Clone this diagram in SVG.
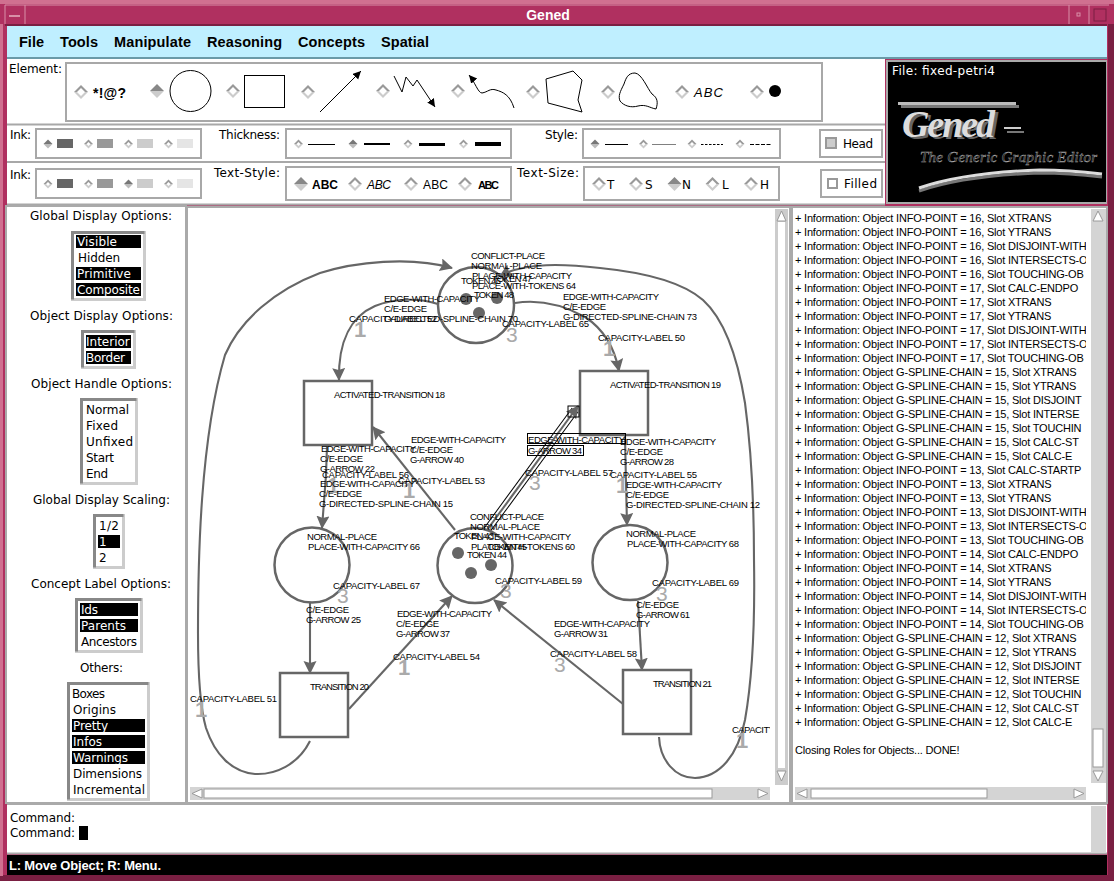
<svg xmlns="http://www.w3.org/2000/svg" xmlns:xlink="http://www.w3.org/1999/xlink" width="1114" height="881" viewBox="0 0 1114 881">
<style>
text{font-family:"DejaVu Sans",sans-serif;fill:#000}
.ui{font-size:12px}
.inv{font-size:12px;fill:#fff}
.menu{font-family:"Liberation Sans",sans-serif;font-size:14.5px;font-weight:bold}
.log{font-family:"Liberation Sans",sans-serif;font-size:11px;letter-spacing:-.2px}
.l{font-family:"Liberation Sans",sans-serif;font-size:9.5px}
.b3{font-family:"Liberation Sans",sans-serif;font-size:21px;fill:#aaa}
.b1{font-family:"Liberation Sans",sans-serif;font-size:22px;font-weight:bold;fill:#aaa}
.node{fill:#fff;fill-opacity:0;stroke:#666;stroke-width:2.5}
.tok{fill:#666}
.edge{fill:none;stroke:#666;stroke-width:2.1;marker-end:url(#ah)}
.panel{fill:#fff;stroke:#a8a8a8;stroke-width:2}
.br{fill:#fff;stroke:#ccc;stroke-width:3}
.tl{fill:none;stroke:#888;stroke-width:3}
.sel{fill:#000}
.sb{fill:#d4d4d4}
.th{fill:#fff;stroke:#999;stroke-width:1}
.icon{fill:none;stroke:#000;stroke-width:1}
</style>
<defs>
<marker id="ah" markerUnits="userSpaceOnUse" markerWidth="16" markerHeight="16" refX="12" refY="6.5" orient="auto"><path d="M0 0L13 6.5L0 13L2 6.5Z" fill="#666"/></marker>
<marker id="ai" markerUnits="userSpaceOnUse" markerWidth="10" markerHeight="10" refX="8" refY="4" orient="auto"><path d="M0 0L8 4L0 8Z" fill="#000"/></marker>
<g id="d"><polygon points="-7,0 0,-7 7,0" fill="#999"/><polygon points="-7,0 0,7 7,0" fill="#ccc"/><polygon points="-4,0 0,-4 4,0 0,4" fill="#fff"/></g>
<g id="dOn"><polygon points="-7,0 0,-7 7,0" fill="#888"/><polygon points="-7,0 0,7 7,0" fill="#ccc"/></g>
<g id="s"><polygon points="-4.5,0 0,-4.5 4.5,0" fill="#999"/><polygon points="-4.5,0 0,4.5 4.5,0" fill="#ccc"/><polygon points="-2,0 0,-2 2,0 0,2" fill="#fff"/></g>
<g id="sOn"><polygon points="-4.5,0 0,-4.5 4.5,0" fill="#777"/><polygon points="-4.5,0 0,4.5 4.5,0" fill="#bbb"/></g>
<clipPath id="logClip"><rect x="793" y="209" width="293" height="576"/></clipPath>
<clipPath id="paneClip"><rect x="189" y="209" width="581" height="576"/></clipPath>
<clipPath id="intClip"><rect x="86" y="334" width="45" height="30"/></clipPath>
</defs>

<g id="window-frame">
<rect width="1114" height="881" fill="#b03060"/>
<rect x="0" y="0" width="1114" height="4" fill="#d07090"/>
<rect x="0" y="875" width="1114" height="6" fill="#7a1f42"/>
<rect x="1108" y="24" width="6" height="852" fill="#7a1f42"/>
<rect x="0" y="24" width="3" height="852" fill="#d07090"/>
<rect x="5" y="24" width="1102" height="2" fill="#7a1f42"/>
<path d="M5 5H1109M5 5V24M25 5V24M1069 5V24M1089 5V24" fill="none" stroke="#d890a8" stroke-width="1"/>
<rect x="9" y="15" width="11" height="2" fill="#d890a8"/>
<rect x="1077" y="13" width="3" height="3" fill="none" stroke="#d890a8"/>
<rect x="1094" y="9" width="12" height="12" fill="none" stroke="#7a1f42"/>
<text x="548" y="20" text-anchor="middle" style="font-family:'Liberation Sans',sans-serif;font-size:14px;font-weight:bold;fill:#fff">Gened</text>
</g>

<g id="menu-bar">
<rect x="7" y="26" width="1100" height="33" fill="#bfefff"/>
<rect x="7" y="57" width="1100" height="2" fill="#6a9aa8"/>
<text class="menu" x="19" y="47" textLength="25">File</text>
<text class="menu" x="60" y="47" textLength="38">Tools</text>
<text class="menu" x="114" y="47" textLength="77">Manipulate</text>
<text class="menu" x="207" y="47" textLength="75">Reasoning</text>
<text class="menu" x="298" y="47" textLength="67">Concepts</text>
<text class="menu" x="381" y="47" textLength="48">Spatial</text>
</g>

<g id="toolbar">
<rect x="7" y="59" width="878" height="146" fill="#fff"/>
<path d="M7 124.500H885M7 162H885M7 204.500H885" stroke="#a8a8a8" stroke-width="2" fill="none"/>
<text class="ui" x="9" y="73" textLength="53">Element:</text>
<rect class="panel" x="66" y="63" width="756" height="58"/>
<use xlink:href="#d" href="#d" x="81" y="92"/>
<text x="93" y="98" textLength="33" style="font-family:'Liberation Sans',sans-serif;font-size:14px;font-weight:bold">*!@?</text>
<use href="#dOn" x="157" y="91"/>
<circle class="icon" cx="190.500" cy="91" r="20.500"/>
<use href="#d" x="233" y="91"/>
<rect class="icon" x="244.500" y="75.500" width="40" height="32"/>
<use href="#d" x="308" y="92"/>
<path class="icon" d="M320 112L361 71" marker-end="url(#ai)"/>
<use href="#d" x="383" y="91"/>
<path class="icon" d="M394 76L402 92L406 77L413 86L417 80L435 107" marker-end="url(#ai)"/>
<use href="#d" x="458" y="91"/>
<path class="icon" d="M514 108C510 95 503 92 496 90C490 88 488 92 482 93C478 93 475 82 469 75" marker-end="url(#ai)"/>
<use href="#d" x="533" y="92"/>
<polygon class="icon" points="546,79 573,71 582,80 578,100 582,112 548,103"/>
<use href="#d" x="608" y="92"/>
<path class="icon" d="M635 73C628 73 626 78 624 84C620 92 618 96 620 101C624 106 631 108 638 106C646 104 650 108 656 109C658 103 658 98 652 94C647 88 642 74 635 73Z"/>
<use href="#d" x="682" y="92"/>
<text x="694" y="97" textLength="29" style="font-family:'Liberation Sans',sans-serif;font-size:13px;font-style:italic">ABC</text>
<use href="#d" x="757" y="92"/>
<circle cx="775" cy="91" r="6" fill="#000"/>

<text class="ui" x="10" y="139" textLength="21">Ink:</text>
<rect class="panel" x="36" y="129" width="165" height="29"/>
<use href="#sOn" x="48" y="144"/><rect x="57" y="139" width="16" height="9" fill="#666"/>
<use href="#s" x="88.500" y="144"/><rect x="97" y="139" width="16" height="9" fill="#999"/>
<use href="#s" x="128.500" y="144"/><rect x="137" y="139" width="16" height="9" fill="#ccc"/>
<use href="#s" x="168.500" y="144"/><rect x="177" y="139" width="16" height="9" fill="#e5e5e5"/>
<text class="ui" x="219" y="139" textLength="61">Thickness:</text>
<rect class="panel" x="286" y="129" width="225" height="29"/>
<use href="#s" x="298.500" y="144"/><rect x="308" y="144" width="27" height="1" fill="#000"/>
<use href="#sOn" x="353" y="144"/><rect x="364" y="143" width="26" height="2" fill="#000"/>
<use href="#s" x="408" y="144"/><rect x="419" y="143" width="26" height="3" fill="#000"/>
<use href="#s" x="463.500" y="144"/><rect x="475" y="142" width="26" height="4" fill="#000"/>
<text class="ui" x="545" y="139" textLength="33">Style:</text>
<rect class="panel" x="583" y="129" width="197" height="29"/>
<use href="#sOn" x="595" y="144"/><rect x="605" y="144" width="23" height="1" fill="#000"/>
<use href="#s" x="643.500" y="144"/><path d="M652.500 144.500H676" stroke="#000" stroke-dasharray="1 1" fill="none"/>
<use href="#s" x="692" y="144"/><path d="M701 144.500H723" stroke="#000" stroke-dasharray="2.500 1.500" fill="none"/>
<use href="#s" x="740" y="144"/><path d="M750 144.500H772" stroke="#000" stroke-dasharray="4 1.500" fill="none"/>
<rect class="panel" x="820" y="130" width="62" height="27"/>
<rect x="826" y="138" width="10" height="10" fill="#ccc" stroke="#999" stroke-width="2"/>
<text class="ui" x="843" y="148" textLength="30">Head</text>

<text class="ui" x="10" y="179" textLength="21">Ink:</text>
<rect class="panel" x="36" y="169" width="165" height="29"/>
<use href="#s" x="48" y="184"/><rect x="57" y="179" width="16" height="9" fill="#666"/>
<use href="#s" x="88.500" y="184"/><rect x="97" y="179" width="16" height="9" fill="#999"/>
<use href="#sOn" x="128.500" y="184"/><rect x="137" y="179" width="16" height="9" fill="#ccc"/>
<use href="#s" x="168.500" y="184"/><rect x="177" y="179" width="16" height="9" fill="#e5e5e5"/>
<text class="ui" x="214" y="177" textLength="66">Text-Style:</text>
<rect class="panel" x="286" y="167" width="225" height="33"/>
<use href="#dOn" x="301" y="184"/>
<text x="312" y="189" textLength="26" style="font-family:'Liberation Sans',sans-serif;font-size:12px;font-weight:bold">ABC</text>
<use href="#d" x="355" y="184"/>
<text x="367" y="189" textLength="24" style="font-family:'Liberation Sans',sans-serif;font-size:12px;font-style:italic">ABC</text>
<use href="#d" x="411" y="184"/>
<text x="423" y="189" textLength="25" style="font-family:'Liberation Sans',sans-serif;font-size:12px">ABC</text>
<use href="#d" x="465" y="184"/>
<text x="478" y="189" textLength="21" style="font-family:'Liberation Sans',sans-serif;font-size:11px;font-weight:bold">ABC</text>
<text class="ui" x="517" y="177" textLength="62">Text-Size:</text>
<rect class="panel" x="584" y="167" width="195" height="33"/>
<use href="#d" x="599" y="184"/><text class="ui" x="607" y="189">T</text>
<use href="#d" x="636" y="184"/><text class="ui" x="645" y="189">S</text>
<use href="#dOn" x="674.500" y="184"/><text class="ui" x="682" y="189">N</text>
<use href="#d" x="712.500" y="184"/><text class="ui" x="722" y="189">L</text>
<use href="#d" x="751" y="184"/><text class="ui" x="760" y="189">H</text>
<rect class="panel" x="821" y="170" width="61" height="27"/>
<rect x="828" y="179" width="9" height="9" fill="#fff" stroke="#999" stroke-width="2"/>
<text class="ui" x="844" y="188" textLength="33">Filled</text>
</g>

<g id="logo">
<rect x="886" y="60" width="221" height="144" fill="#aaa"/>
<rect x="888" y="62" width="218" height="140" fill="#000"/>
<text x="892" y="75" textLength="103" style="font-size:12px;fill:#fff">File: fixed-petri4</text>
<rect x="898" y="102" width="118" height="3" fill="#bbb"/>
<rect x="901" y="105" width="118" height="3" fill="#777"/>
<text x="905" y="139" textLength="93" style="font-family:'Liberation Serif',serif;font-size:38px;font-style:italic;font-weight:bold;fill:#666">Gened</text>
<text x="902" y="137" textLength="93" style="font-family:'Liberation Serif',serif;font-size:38px;font-style:italic;font-weight:bold;fill:#ddd">Gened</text>
<rect x="1004" y="127" width="17" height="2" fill="#ccc"/>
<rect x="1007" y="131" width="17" height="2" fill="#777"/>
<text x="920" y="162" textLength="177" style="font-family:'Liberation Serif',serif;font-size:15px;font-style:italic;fill:#000;stroke:#aaa;stroke-width:.45">The Generic Graphic Editor</text>
<path d="M919 191C960 177 1010 174 1040 173C1065 173 1085 175 1102 177" fill="none" stroke="#777" stroke-width="3"/>
<path d="M919 188C960 174 1010 171 1040 170C1065 170 1085 172 1102 174" fill="none" stroke="#ddd" stroke-width="3"/>
</g>

<g id="options-panel">
<rect x="6" y="206" width="180" height="597" fill="#fff" stroke="#aaa" stroke-width="2"/>
<text class="ui" x="30" y="220" textLength="142">Global Display Options:</text>
<rect class="br" x="72.500" y="232.500" width="72" height="67"/><path class="tl" d="M72.500 299.500V232.500H144.500"/>
<rect class="sel" x="76" y="235" width="65" height="13"/><rect class="sel" x="76" y="267" width="65" height="13"/><rect class="sel" x="76" y="283" width="65" height="13"/>
<text class="inv" x="77" y="246" textLength="40">Visible</text>
<text class="ui" x="78" y="262" textLength="42">Hidden</text>
<text class="inv" x="77" y="278" textLength="54">Primitive</text>
<text class="inv" x="77" y="294" textLength="63">Composite</text>
<text class="ui" x="30" y="320" textLength="143">Object Display Options:</text>
<rect class="br" x="82.500" y="331.500" width="52" height="36"/><path class="tl" d="M82.500 367.500V331.500H134.500"/>
<rect class="sel" x="86" y="335" width="45" height="13"/><rect class="sel" x="86" y="351" width="45" height="13"/>
<text class="inv" x="86" y="346" clip-path="url(#intClip)">Interior</text>
<text class="inv" x="86" y="362" textLength="39">Border</text>
<text class="ui" x="31" y="388" textLength="141">Object Handle Options:</text>
<rect class="br" x="81.500" y="399.500" width="55" height="84"/><path class="tl" d="M81.500 483.500V399.500H136.500"/>
<text class="ui" x="86" y="414" textLength="43">Normal</text>
<text class="ui" x="86" y="430" textLength="32">Fixed</text>
<text class="ui" x="86" y="446" textLength="47">Unfixed</text>
<text class="ui" x="86" y="462" textLength="28">Start</text>
<text class="ui" x="86" y="478" textLength="22">End</text>
<text class="ui" x="33" y="504" textLength="137">Global Display Scaling:</text>
<rect class="br" x="94.500" y="515.500" width="29" height="52"/><path class="tl" d="M94.500 567.500V515.500H123.500"/>
<rect class="sel" x="98" y="535" width="22" height="13"/>
<text class="ui" x="99" y="530" textLength="20">1/2</text>
<text class="inv" x="99" y="546">1</text>
<text class="ui" x="99" y="562">2</text>
<text class="ui" x="31" y="588" textLength="140">Concept Label Options:</text>
<rect class="br" x="76.500" y="599.500" width="65" height="52"/><path class="tl" d="M76.500 651.500V599.500H141.500"/>
<rect class="sel" x="80" y="603" width="58" height="13"/><rect class="sel" x="80" y="619" width="58" height="13"/>
<text class="inv" x="81" y="614" textLength="17">Ids</text>
<text class="inv" x="81" y="630" textLength="45">Parents</text>
<text class="ui" x="81" y="646" textLength="56">Ancestors</text>
<text class="ui" x="80" y="672" textLength="43">Others:</text>
<rect class="br" x="68.500" y="683.500" width="80" height="116"/><path class="tl" d="M68.500 799.500V683.500H148.500"/>
<rect class="sel" x="72" y="719" width="73" height="13"/><rect class="sel" x="72" y="735" width="73" height="13"/><rect class="sel" x="72" y="751" width="73" height="13"/>
<text class="ui" x="72" y="698" textLength="33">Boxes</text>
<text class="ui" x="73" y="714" textLength="43">Origins</text>
<text class="inv" x="73" y="730" textLength="35">Pretty</text>
<text class="inv" x="73" y="746" textLength="29">Infos</text>
<text class="inv" x="73" y="762" textLength="55">Warnings</text>
<text class="ui" x="73" y="778" textLength="69">Dimensions</text>
<text class="ui" x="73" y="794" textLength="72">Incremental</text>
</g>

<g id="graph-pane">
<rect x="187" y="207" width="603" height="596" fill="#fff" stroke="#aaa" stroke-width="2"/>
<rect x="775" y="209" width="13" height="576" fill="#ccc"/>
<rect x="778" y="222" width="7" height="546" fill="#fff"/>
<polygon points="781.500,211 777,221 786,221" fill="#fff" stroke="#999"/>
<polygon points="781.500,781 777,771 786,771" fill="#fff" stroke="#999"/>
<rect x="190" y="787" width="580" height="13" class="sb"/>
<rect x="204" y="789" width="508" height="9" fill="#fff" stroke="#999"/>
<polygon points="192,793.500 202,789 202,798" fill="#fff" stroke="#999"/>
<polygon points="768,793.500 758,789 758,798" fill="#fff" stroke="#999"/>
</g>

<g id="log-pane">
<rect x="792" y="207" width="315" height="596" fill="#fff" stroke="#aaa" stroke-width="2"/>
<rect x="1091" y="209" width="15" height="574" class="sb"/>
<rect x="1093" y="729" width="10" height="38" fill="#fff" stroke="#999"/>
<polygon points="1098,211 1093,221 1103,221" fill="#fff" stroke="#999"/>
<polygon points="1098,781 1093,771 1103,771" fill="#fff" stroke="#999"/>
<rect x="795" y="787" width="291" height="13" class="sb"/>
<rect x="811" y="789" width="176" height="9" fill="#fff" stroke="#999"/>
<polygon points="797,793.500 807,789 807,798" fill="#fff" stroke="#999"/>
<polygon points="1084,793.500 1074,789 1074,798" fill="#fff" stroke="#999"/>
<g clip-path="url(#logClip)">
<text class="log" x="795" y="222">+ Information: Object INFO-POINT = 16, Slot XTRANS</text>
<text class="log" x="795" y="236">+ Information: Object INFO-POINT = 16, Slot YTRANS</text>
<text class="log" x="795" y="250">+ Information: Object INFO-POINT = 16, Slot DISJOINT-WITH</text>
<text class="log" x="795" y="264">+ Information: Object INFO-POINT = 16, Slot INTERSECTS-O</text>
<text class="log" x="795" y="278">+ Information: Object INFO-POINT = 16, Slot TOUCHING-OB</text>
<text class="log" x="795" y="292">+ Information: Object INFO-POINT = 17, Slot CALC-ENDPO</text>
<text class="log" x="795" y="306">+ Information: Object INFO-POINT = 17, Slot XTRANS</text>
<text class="log" x="795" y="320">+ Information: Object INFO-POINT = 17, Slot YTRANS</text>
<text class="log" x="795" y="334">+ Information: Object INFO-POINT = 17, Slot DISJOINT-WITH</text>
<text class="log" x="795" y="348">+ Information: Object INFO-POINT = 17, Slot INTERSECTS-O</text>
<text class="log" x="795" y="362">+ Information: Object INFO-POINT = 17, Slot TOUCHING-OB</text>
<text class="log" x="795" y="376">+ Information: Object G-SPLINE-CHAIN = 15, Slot XTRANS</text>
<text class="log" x="795" y="390">+ Information: Object G-SPLINE-CHAIN = 15, Slot YTRANS</text>
<text class="log" x="795" y="404">+ Information: Object G-SPLINE-CHAIN = 15, Slot DISJOINT</text>
<text class="log" x="795" y="418">+ Information: Object G-SPLINE-CHAIN = 15, Slot INTERSE</text>
<text class="log" x="795" y="432">+ Information: Object G-SPLINE-CHAIN = 15, Slot TOUCHIN</text>
<text class="log" x="795" y="446">+ Information: Object G-SPLINE-CHAIN = 15, Slot CALC-ST</text>
<text class="log" x="795" y="460">+ Information: Object G-SPLINE-CHAIN = 15, Slot CALC-E</text>
<text class="log" x="795" y="474">+ Information: Object INFO-POINT = 13, Slot CALC-STARTP</text>
<text class="log" x="795" y="488">+ Information: Object INFO-POINT = 13, Slot XTRANS</text>
<text class="log" x="795" y="502">+ Information: Object INFO-POINT = 13, Slot YTRANS</text>
<text class="log" x="795" y="516">+ Information: Object INFO-POINT = 13, Slot DISJOINT-WITH</text>
<text class="log" x="795" y="530">+ Information: Object INFO-POINT = 13, Slot INTERSECTS-O</text>
<text class="log" x="795" y="544">+ Information: Object INFO-POINT = 13, Slot TOUCHING-OB</text>
<text class="log" x="795" y="558">+ Information: Object INFO-POINT = 14, Slot CALC-ENDPO</text>
<text class="log" x="795" y="572">+ Information: Object INFO-POINT = 14, Slot XTRANS</text>
<text class="log" x="795" y="586">+ Information: Object INFO-POINT = 14, Slot YTRANS</text>
<text class="log" x="795" y="600">+ Information: Object INFO-POINT = 14, Slot DISJOINT-WITH</text>
<text class="log" x="795" y="614">+ Information: Object INFO-POINT = 14, Slot INTERSECTS-O</text>
<text class="log" x="795" y="628">+ Information: Object INFO-POINT = 14, Slot TOUCHING-OB</text>
<text class="log" x="795" y="642">+ Information: Object G-SPLINE-CHAIN = 12, Slot XTRANS</text>
<text class="log" x="795" y="656">+ Information: Object G-SPLINE-CHAIN = 12, Slot YTRANS</text>
<text class="log" x="795" y="670">+ Information: Object G-SPLINE-CHAIN = 12, Slot DISJOINT</text>
<text class="log" x="795" y="684">+ Information: Object G-SPLINE-CHAIN = 12, Slot INTERSE</text>
<text class="log" x="795" y="698">+ Information: Object G-SPLINE-CHAIN = 12, Slot TOUCHIN</text>
<text class="log" x="795" y="712">+ Information: Object G-SPLINE-CHAIN = 12, Slot CALC-ST</text>
<text class="log" x="795" y="726">+ Information: Object G-SPLINE-CHAIN = 12, Slot CALC-E</text>
<text class="log" x="795" y="754">Closing Roles for Objects... DONE!</text>
</g>
</g>

<g id="command-pane">
<rect x="7" y="805" width="1100" height="48" fill="#fff"/>
<path d="M7 804H1107M7 853.500H1107" stroke="#aaa" stroke-width="2" fill="none"/>
<rect x="1091" y="806" width="15" height="46" class="sb"/>
<text class="ui" x="10" y="822" textLength="65">Command:</text>
<text class="ui" x="10" y="837" textLength="65">Command:</text>
<rect x="79" y="826" width="9" height="14" fill="#000"/>
</g>
<g id="status-bar">
<rect x="7" y="855" width="1100" height="20" fill="#000"/>
<text x="9" y="870" textLength="152" style="font-family:'Liberation Sans',sans-serif;font-size:13px;font-weight:bold;fill:#fff">L: Move Object; R: Menu.</text>
</g>

<g id="connectors">
<path class="edge" d="M438 304C420 298 395 298 375 306C352 316 338 340 339 380"/>
<path class="edge" d="M515 303C540 299 565 306 585 317C605 330 615 350 619 371"/>
<path class="edge" d="M327 446L326 475L322 528"/>
<path class="edge" d="M625 436L626 483L627 525"/>
<path class="edge" d="M310 603V673"/>
<path class="edge" d="M638 601L642 670"/>
<path class="edge" d="M349 709L452 596"/>
<path class="edge" d="M623 704L494 600"/>
<path class="edge" d="M455 530L373 427"/>
<path class="edge" d="M310 741C298 765 275 775 255 774C232 772 215 755 206 728C198 700 198 650 198 633C198 560 200 440 225 355C240 320 275 290 320 273C355 262 410 256 452 268"/>
<path class="edge" d="M659 737C660 760 675 778 695 778C720 777 738 755 745 720C752 680 755 620 754 560C754 500 750 440 745 403C738 360 725 320 703 300C680 280 640 272 600 268C565 264 525 262 500 276"/>
<path d="M487 530L575 410" fill="none" stroke="#000" stroke-width="8"/>
<path d="M487 530L575 410" fill="none" stroke="#fff" stroke-width="6"/>
<path class="edge" d="M487 530L578 406"/>
</g>

<g id="place-conflict-64">
<circle class="node" cx="476" cy="305" r="38"/>
<circle class="tok" cx="466" cy="299" r="6"/><circle class="tok" cx="497" cy="298" r="6"/><circle class="tok" cx="479" cy="313" r="6"/>
<text class="l" x="471" y="259" textLength="74">CONFLICT-PLACE</text>
<text class="l" x="471" y="269" textLength="71">NORMAL-PLACE</text>
<text class="l" x="472" y="279" textLength="100">PLACE-WITH-CAPACITY</text>
<text class="l" x="472" y="289" textLength="104">PLACE-WITH-TOKENS 64</text>
<text class="l" x="461" y="284" textLength="40">TOKEN 46</text>
<text class="l" x="492" y="282" textLength="40">TOKEN 47</text>
<text class="l" x="474" y="298" textLength="40">TOKEN 48</text>
<text class="l" x="502" y="327" textLength="87">CAPACITY-LABEL 65</text>
<text class="b3" x="506" y="342">3</text>
</g>
<g id="edge-labels-70">
<text class="l" x="384" y="302" textLength="96">EDGE-WITH-CAPACITY</text>
<text class="l" x="384" y="312" textLength="43">C/E-EDGE</text>
<text class="l" x="384" y="322" textLength="134">G-DIRECTED-SPLINE-CHAIN 70</text>
<text class="l" x="349" y="322" textLength="88">CAPACITY-LABEL 52</text>
<text class="b1" x="354" y="337">1</text>
</g>
<g id="edge-labels-73">
<text class="l" x="563" y="300" textLength="96">EDGE-WITH-CAPACITY</text>
<text class="l" x="563" y="310" textLength="43">C/E-EDGE</text>
<text class="l" x="563" y="320" textLength="134">G-DIRECTED-SPLINE-CHAIN 73</text>
<text class="l" x="598" y="341" textLength="87">CAPACITY-LABEL 50</text>
<text class="b1" x="603" y="356">1</text>
</g>
<g id="transition-18">
<rect class="node" x="304" y="381" width="68" height="64"/>
<text class="l" x="334" y="398" textLength="111">ACTIVATED-TRANSITION 18</text>
</g>
<g id="transition-19">
<rect class="node" x="580" y="371" width="68" height="64"/>
<text class="l" x="610" y="388" textLength="111">ACTIVATED-TRANSITION 19</text>
</g>
<g id="selected-labels-34">
<rect x="568" y="406" width="11" height="11" fill="none" stroke="#000"/>
<rect x="527.500" y="433.500" width="98" height="10" fill="none" stroke="#000"/>
<rect x="527.500" y="445.500" width="56" height="10" fill="none" stroke="#000"/>
<text class="l" x="528" y="443" textLength="97">EDGE-WITH-CAPACITY</text>
<text class="l" x="528" y="454" textLength="54">G-ARROW 34</text>
<text class="l" x="525" y="476" textLength="88">CAPACITY-LABEL 57</text>
<text class="b3" x="529" y="490">3</text>
</g>
<g id="edge-labels-28">
<text class="l" x="620" y="445" textLength="96">EDGE-WITH-CAPACITY</text>
<text class="l" x="620" y="455" textLength="43">C/E-EDGE</text>
<text class="l" x="620" y="465" textLength="54">G-ARROW 28</text>
<text class="l" x="610" y="478" textLength="87">CAPACITY-LABEL 55</text>
<text class="b1" x="616" y="493">1</text>
<text class="l" x="626" y="488" textLength="96">EDGE-WITH-CAPACITY</text>
<text class="l" x="626" y="498" textLength="43">C/E-EDGE</text>
<text class="l" x="626" y="508" textLength="134">G-DIRECTED-SPLINE-CHAIN 12</text>
</g>
<g id="edge-labels-40">
<text class="l" x="411" y="443" textLength="95">EDGE-WITH-CAPACITY</text>
<text class="l" x="410" y="453" textLength="43">C/E-EDGE</text>
<text class="l" x="410" y="463" textLength="54">G-ARROW 40</text>
<text class="l" x="398" y="484" textLength="87">CAPACITY-LABEL 53</text>
<text class="b1" x="403" y="498">1</text>
</g>
<g id="edge-labels-22">
<text class="l" x="321" y="452" textLength="95">EDGE-WITH-CAPACITY</text>
<text class="l" x="320" y="462" textLength="43">C/E-EDGE</text>
<text class="l" x="320" y="472" textLength="55">G-ARROW 22</text>
<text class="l" x="322" y="478" textLength="87">CAPACITY-LABEL 56</text>
<text class="b1" x="327" y="493">1</text>
<text class="l" x="320" y="487" textLength="95">EDGE-WITH-CAPACITY</text>
<text class="l" x="319" y="497" textLength="43">C/E-EDGE</text>
<text class="l" x="319" y="507" textLength="134">G-DIRECTED-SPLINE-CHAIN 15</text>
</g>
<g id="place-66">
<circle class="node" cx="312" cy="565" r="37.500"/>
<text class="l" x="307" y="540" textLength="70">NORMAL-PLACE</text>
<text class="l" x="308" y="550" textLength="112">PLACE-WITH-CAPACITY 66</text>
<text class="l" x="333" y="589" textLength="87">CAPACITY-LABEL 67</text>
<text class="b3" x="337" y="603">3</text>
</g>
<g id="place-conflict-60">
<circle class="node" cx="475" cy="565.500" r="37.500"/>
<circle class="tok" cx="458" cy="553" r="6"/><circle class="tok" cx="491" cy="565" r="6"/><circle class="tok" cx="471" cy="573" r="6"/>
<text class="l" x="470" y="520" textLength="74">CONFLICT-PLACE</text>
<text class="l" x="470" y="530" textLength="70">NORMAL-PLACE</text>
<text class="l" x="471" y="540" textLength="100">PLACE-WITH-CAPACITY</text>
<text class="l" x="471" y="550" textLength="104">PLACE-WITH-TOKENS 60</text>
<text class="l" x="454" y="539" textLength="40">TOKEN 43</text>
<text class="l" x="487" y="549.500" textLength="40">TOKEN 45</text>
<text class="l" x="467" y="558" textLength="40">TOKEN 44</text>
<text class="l" x="495" y="584" textLength="87">CAPACITY-LABEL 59</text>
<text class="b3" x="500" y="598">3</text>
</g>
<g id="place-68">
<circle class="node" cx="630" cy="562.500" r="37.500"/>
<text class="l" x="626" y="537" textLength="70">NORMAL-PLACE</text>
<text class="l" x="627" y="547" textLength="112">PLACE-WITH-CAPACITY 68</text>
<text class="l" x="652" y="586" textLength="87">CAPACITY-LABEL 69</text>
<text class="b3" x="656" y="601">3</text>
</g>
<g id="edge-labels-25">
<text class="l" x="306" y="613" textLength="43">C/E-EDGE</text>
<text class="l" x="306" y="623" textLength="55">G-ARROW 25</text>
</g>
<g id="edge-labels-37">
<text class="l" x="397" y="617" textLength="95">EDGE-WITH-CAPACITY</text>
<text class="l" x="396" y="627" textLength="43">C/E-EDGE</text>
<text class="l" x="396" y="637" textLength="54">G-ARROW 37</text>
<text class="l" x="393" y="660" textLength="87">CAPACITY-LABEL 54</text>
<text class="b1" x="398" y="675">1</text>
</g>
<g id="edge-labels-61">
<text class="l" x="636" y="608" textLength="43">C/E-EDGE</text>
<text class="l" x="636" y="618" textLength="54">G-ARROW 61</text>
</g>
<g id="edge-labels-31">
<text class="l" x="554" y="627" textLength="96">EDGE-WITH-CAPACITY</text>
<text class="l" x="554" y="637" textLength="54">G-ARROW 31</text>
<text class="l" x="550" y="657" textLength="87">CAPACITY-LABEL 58</text>
<text class="b3" x="554" y="672">3</text>
</g>
<g id="transition-20">
<rect class="node" x="280" y="673" width="68" height="64"/>
<text class="l" x="310" y="690" textLength="59">TRANSITION 20</text>
</g>
<g id="transition-21">
<rect class="node" x="623" y="670" width="68" height="64"/>
<text class="l" x="653" y="687" textLength="59">TRANSITION 21</text>
</g>
<g id="edge-labels-51">
<text class="l" x="190" y="702" textLength="87">CAPACITY-LABEL 51</text>
<text class="b1" x="195" y="717">1</text>
</g>
<g id="edge-labels-49" clip-path="url(#paneClip)">
<text class="l" x="732" y="733" textLength="43">CAPACITY</text>
<text class="b1" x="736" y="748">1</text>
</g>
</svg>
